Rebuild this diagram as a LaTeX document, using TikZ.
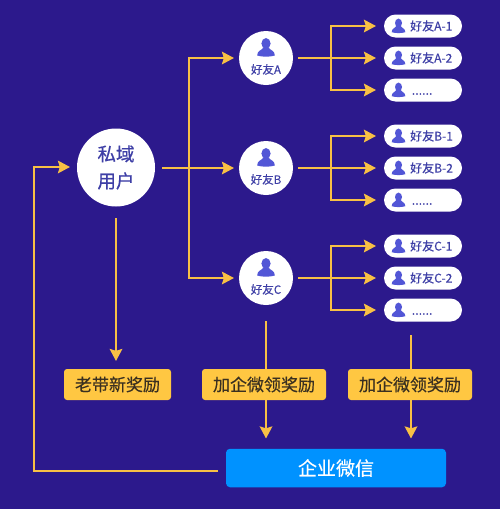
\documentclass[tikz,border=0pt]{standalone}
\usepackage{fontspec}
\setmainfont{Noto Sans CJK SC}[FakeBold=0.3]
\newfontfamily\strongf{Noto Sans CJK SC}[FakeBold=0.6]
\usetikzlibrary{arrows.meta}
\definecolor{bgc}{HTML}{2C198C}
\definecolor{yel}{HTML}{FFC742}
\definecolor{lin}{HTML}{F8C045}
\definecolor{txtc}{HTML}{3E3FA6}
\definecolor{icn}{HTML}{5256D6}
\definecolor{blu}{HTML}{0092FF}
\definecolor{dark}{HTML}{3A3020}
\tikzset{
  x=1pt,y=-1pt,
  link/.style={draw=lin,line width=2.3pt},
  flow/.style={link,-{Stealth[length=12pt,width=12.5pt,inset=1.8pt]}},
  userc/.style={circle,fill=white,inner sep=0pt,minimum size=78pt,text=txtc,font=\fontsize{18.5}{27}\strongf,align=center},
  friendc/.style={circle,fill=white,inner sep=0pt,minimum size=54pt},
  pill/.style={rounded corners=11.5pt,fill=white,minimum width=78pt,minimum height=23pt,inner sep=0pt},
  reward/.style={rounded corners=3pt,fill=yel,minimum height=31pt,inner sep=0pt,text=dark,font=\fontsize{17}{20}\selectfont},
  lab/.style={text=txtc,inner sep=0pt},
  person/.pic={
    \fill[icn] (0,-4) ellipse[x radius=4.6,y radius=5.4];
    \fill[icn] (-8.8,8) .. controls (-9,2.8) and (-4,3) .. (-2.6,0) -- (2.6,0) .. controls (4,3) and (9,2.8) .. (8.8,8) .. controls (4,9.6) and (-4,9.6) .. (-8.8,8) -- cycle;
  },
  spers/.pic={
    \fill[icn] (0,-3) ellipse[x radius=3.5,y radius=4.4];
    \fill[icn] (-6.8,6.2) .. controls (-7,2.3) and (-3,2.3) .. (-2,0) -- (2,0) .. controls (3,2.3) and (7,2.3) .. (6.8,6.2) .. controls (3,7.4) and (-3,7.4) .. (-6.8,6.2) -- cycle;
  }
}
\newcommand{\friendtree}[3]{% name, letter, y-centre of friend
  \node[friendc] (f#1) at (266,#3) {};
  \pic at (266,#3-10.5) {person};
  \node[lab,font=\fontsize{11.5}{14}\selectfont] at (266,#3+11.5) {好友#2};
  \coordinate (s#1) at (298,#3);
  \coordinate (j#1) at (331,#3);
  \node[pill] (p#11) at (423,#3-32) {};
  \node[pill] (p#12) at (423,#3) {};
  \node[pill] (p#13) at (423,#3+32) {};
  \pic at (398.5,#3-32) {spers};
  \pic at (398.5,#3) {spers};
  \pic at (398.5,#3+32) {spers};
  \node[lab,anchor=west,font=\fontsize{12}{14}\selectfont] at (410,#3-32) {好友#2-1};
  \node[lab,anchor=west,font=\fontsize{12}{14}\selectfont] at (410,#3) {好友#2-2};
  \node[lab,anchor=west,font=\fontsize{12.5}{14}\selectfont] at (411.5,#3+36) {......};
  \coordinate (e#11) at (376,#3-32);
  \coordinate (e#12) at (376,#3);
  \coordinate (e#13) at (376,#3+32);
  \draw[link] (s#1) -- (j#1);
  \draw[flow] (j#1) |- (e#11);
  \draw[flow] (j#1) -- (e#12);
  \draw[flow] (j#1) |- (e#13);
}
\begin{document}
\begin{tikzpicture}
\useasboundingbox (0,0) rectangle (500,509);
\fill[bgc] (0,0) rectangle (500,509);
\friendtree{a}{A}{58}
\friendtree{b}{B}{168}
\friendtree{c}{C}{278}
\node[userc] (u) at (116,167.5) {私域\\用户};
\node[reward,minimum width=107pt] (r1) at (117.5,384.5) {老带新奖励};
\node[reward,minimum width=124pt] (r2) at (264,384.5) {加企微领奖励};
\node[reward,minimum width=124pt] (r3) at (410,384.5) {加企微领奖励};
\node[rounded corners=4pt,fill=blu,minimum width=220pt,minimum height=38.5pt,inner sep=0pt,text=white,font=\fontsize{19}{22}\selectfont] (w) at (336,468) {企业微信};
% main links
\coordinate (m0) at (162,168);
\coordinate (mj) at (189,168);
\coordinate (ma) at (234,58);
\coordinate (mb) at (234,168);
\coordinate (mc) at (234,278);
\draw[flow] (m0) -- (mb);
\draw[flow] (mj) |- (ma);
\draw[flow] (mj) |- (mc);
% reward links
\coordinate (d0) at (116,218);
\coordinate (d1) at (116,361);
\draw[flow] (d0) -- (d1);
\coordinate (k0) at (266,321);
\coordinate (k1) at (266,369);
\coordinate (k2) at (266,400);
\coordinate (k3) at (266,438.5);
\draw[link] (k0) -- (k1);
\draw[flow] (k2) -- (k3);
\coordinate (n0) at (411,335);
\coordinate (n1) at (411,369);
\coordinate (n2) at (411,400);
\coordinate (n3) at (411,438.5);
\draw[link] (n0) -- (n1);
\draw[flow] (n2) -- (n3);
% feedback
\coordinate (b0) at (218,471);
\coordinate (b1) at (34,471);
\coordinate (b2) at (34,167);
\coordinate (b3) at (70,167);
\draw[flow] (b0) -- (b1) -- (b2) -- (b3);
\end{tikzpicture}
\end{document}
